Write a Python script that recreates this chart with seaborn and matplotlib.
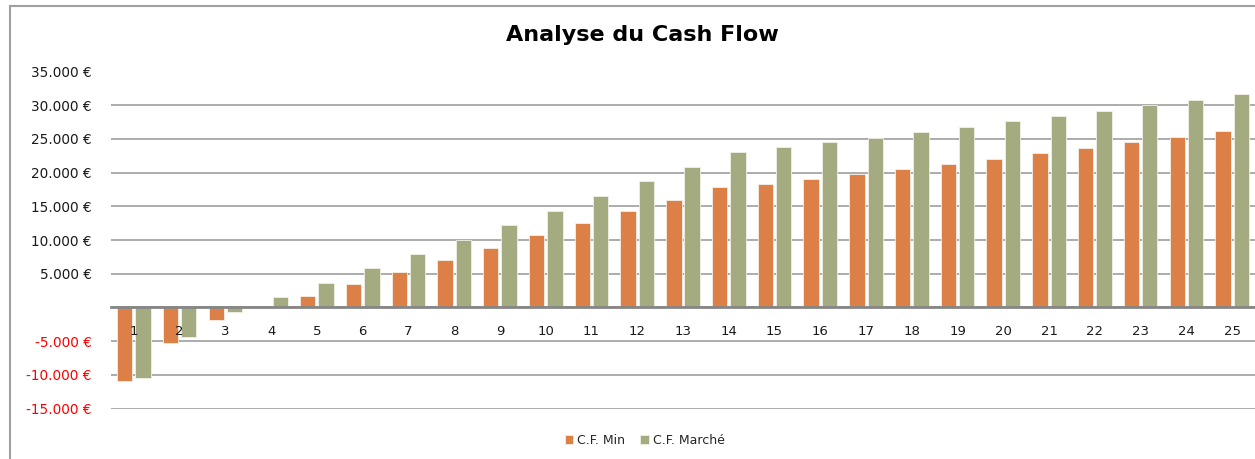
import matplotlib
matplotlib.use("Agg")
import matplotlib.pyplot as plt
import pandas as pd
import seaborn as sns
from matplotlib.patches import Rectangle

annees = list(range(1, 26))
cf_min = [-10900, -5250, -1850, 0, 1700, 3500, 5250, 7050, 8850, 10700,
          12450, 14250, 16000, 17850, 18350, 19050, 19800, 20500, 21250, 22050,
          22850, 23650, 24500, 25350, 26150]
cf_marche = [-10500, -4450, -650, 1500, 3600, 5800, 7900, 10000, 12200, 14350,
             16500, 18700, 20800, 23000, 23750, 24500, 25200, 26000, 26750, 27600,
             28350, 29100, 30000, 30800, 31700]
series = ["C.F. Min", "C.F. Marché"]
y_ticks = list(range(-15000, 35001, 5000))

couleurs = ["#DD8047", "#A5AB81"]

df = pd.DataFrame({
    "annee": annees * 2,
    "valeur": cf_min + cf_marche,
    "serie": [series[0]] * len(annees) + [series[1]] * len(annees),
})

sns.set_theme(style="white")
plt.rcParams["font.family"] = ["DejaVu Sans"]

W, H = 1255, 459
fig = plt.figure(figsize=(W / 100, H / 100), dpi=100)
ax = fig.add_axes([111 / W, 1 - 408.5 / H, (W - 111) / W, (408.5 - 71.5) / H])

sns.barplot(data=df, x="annee", y="valeur", hue="serie", palette=couleurs, saturation=1,
            gap=0.16, edgecolor="#f3efe6", linewidth=0.6, ax=ax, legend=True)

ax.set_ylim(-15000, 35000)
ax.set_xlim(-0.5, len(annees) - 0.5)
ax.set_yticks(y_ticks)
ax.set_yticklabels(["" if v == 0 else f"{v:,}".replace(",", ".") + " €" for v in y_ticks])
for lab, v in zip(ax.get_yticklabels(), y_ticks):
    lab.set_color("#FF0000" if v < 0 else "#1a1a1a")

ax.set_axisbelow(True)
ax.yaxis.grid(True, color="#a6a6a6", linewidth=1.3)
ax.xaxis.grid(False)
ax.xaxis.set_zorder(3)

for side in ["top", "right", "left"]:
    ax.spines[side].set_visible(False)
ax.spines["bottom"].set_position(("data", 0))
ax.spines["bottom"].set_color("#868686")
ax.spines["bottom"].set_linewidth(2)
ax.spines["bottom"].set_zorder(3)

ax.tick_params(axis="x", length=0, pad=13, labelsize=9.5, labelcolor="#1a1a1a")
ax.tick_params(axis="y", length=0, pad=14, labelsize=9.8)
ax.set_xlabel("")
ax.set_ylabel("")

fig.text(0.512, 1 - 35 / H, "Analyse du Cash Flow", ha="center", va="center",
         fontsize=16, fontweight="bold", color="#000000")

handles, labels = ax.get_legend_handles_labels()
ax.get_legend().remove()
fig.legend(handles, labels, loc="center", bbox_to_anchor=(0.5135, 1 - 440 / H), ncol=2,
           frameon=False, fontsize=9, handlelength=0.7, handleheight=0.7,
           handletextpad=0.3, columnspacing=1.2)

fig.patches.append(Rectangle((10 / W, -0.1), 1.2, 1 - 6 / H + 0.1, transform=fig.transFigure,
                             fill=False, edgecolor="#a0a0a0", linewidth=1.5))

fig.savefig("out.png", dpi=100)
